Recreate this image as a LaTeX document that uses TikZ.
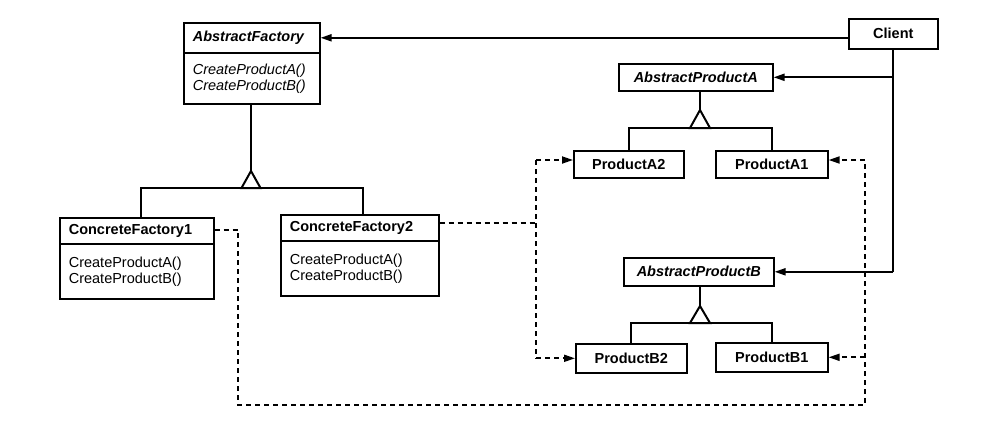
\documentclass[tikz,border=0pt]{standalone}
\usepackage{fontspec}
\setmainfont{Liberation Sans}
\usetikzlibrary{arrows.meta,calc}
\begin{document}
\begin{tikzpicture}[x=1pt,y=-1pt,
  txt/.style={font=\fontsize{14.5}{16}\selectfont},
  cls/.style={txt,draw,line width=1.6pt,anchor=north west,inner sep=0pt,align=left},
  simple/.style={draw,line width=1.6pt,anchor=north west,inner sep=0pt,align=center,font=\fontsize{14.5}{16}\selectfont\bfseries},
  conn/.style={line width=2pt},
  arr/.style={conn,-{Triangle[length=11pt,width=7pt]}},
  dsh/.style={line width=1.8pt,dash pattern=on 5pt off 4pt},
  darr/.style={dsh,-{Triangle[length=11pt,width=7pt]}},
  inh/.style={line width=2pt,fill=white,line join=miter}
]
\useasboundingbox (0,0) rectangle (991,439);
\fill[white] (0,0) rectangle (991,439);

% AbstractFactory
\node[cls,minimum width=136pt,minimum height=30pt,text width=118pt] (afh) at (183,22) {\bfseries\itshape AbstractFactory};
\node[cls,minimum width=136pt,minimum height=51pt,text width=118pt] (afb) at (183,52) {\itshape CreateProductA()\\CreateProductB()};

% ConcreteFactory1
\node[cls,minimum width=154pt,minimum height=26pt,text width=136pt] (cf1h) at (59,217) {\bfseries ConcreteFactory1};
\node[cls,minimum width=154pt,minimum height=55pt,text width=136pt] (cf1b) at (59,243) {CreateProductA()\\CreateProductB()};

% ConcreteFactory2
\node[cls,minimum width=158pt,minimum height=26pt,text width=140pt] (cf2h) at (280,214) {\bfseries ConcreteFactory2};
\node[cls,minimum width=158pt,minimum height=55pt,text width=140pt] (cf2b) at (280,240) {CreateProductA()\\CreateProductB()};

% Client
\node[simple,minimum width=89pt,minimum height=30pt] (client) at (848,18) {Client};

% Abstract products
\node[simple,minimum width=154pt,minimum height=27pt] (apa) at (618,63) {\itshape AbstractProductA};
\node[simple,minimum width=150pt,minimum height=28pt] (apb) at (623,257) {\itshape AbstractProductB};

% Products
\node[simple,minimum width=110pt,minimum height=27pt] (pa2) at (573,150) {ProductA2};
\node[simple,minimum width=112pt,minimum height=27pt] (pa1) at (715,150) {ProductA1};
\node[simple,minimum width=111pt,minimum height=29pt] (pb2) at (575,343) {ProductB2};
\node[simple,minimum width=112pt,minimum height=29pt] (pb1) at (715,342) {ProductB1};

% inheritance AbstractFactory
\coordinate (t1) at (251,171);
\coordinate (t1b) at (251,188);
\draw[conn] (afb.south -| t1) -- (t1);
\draw[conn] ([xshift=4pt]cf1h.north) |- ([xshift=3pt]cf2h.north |- t1b) -- ([xshift=3pt]cf2h.north);
\draw[inh] (t1) -- ++(-9.5,17) -- ++(19,0) -- cycle;

% inheritance A
\coordinate (t2) at (700,110);
\coordinate (t2b) at (700,128);
\draw[conn] (apa.south -| t2) -- (t2);
\draw[conn] (pa2.north) |- (pa1.north |- t2b) -- (pa1.north);
\draw[inh] (t2) -- ++(-10,18) -- ++(20,0) -- cycle;

% inheritance B
\coordinate (t3) at (700,306);
\coordinate (t3b) at (700,323);
\draw[conn] (apb.south -| t3) -- (t3);
\draw[conn] (pb2.north) |- (pb1.north |- t3b) -- (pb1.north);
\draw[inh] (t3) -- ++(-10,17) -- ++(20,0) -- cycle;

% Client associations
\coordinate (cv) at (893,0);
\draw[arr] (client.west |- afh.east) -- (afh.east);
\draw[conn] (client.south -| cv) -- (cv |- apb.east);
\draw[arr] (cv |- apb.east) -- (apb.east);
\draw[arr] (cv |- apa.east) -- (apa.east);

% dependencies ConcreteFactory1
\coordinate (d1x) at (238,405);
\coordinate (d2x) at (865,405);
\draw[dsh] ([yshift=1pt]cf1h.east) -- ([yshift=1pt]cf1h.east -| d1x) -- (d1x) -- (d2x) -- (d2x |- 0,160);
\draw[darr] (d2x |- 0,160) -- (pa1.east |- 0,160);
\draw[darr] (d2x |- pb1.east) -- (pb1.east);

% dependencies ConcreteFactory2
\coordinate (d3x) at (536,0);
\draw[dsh] ([yshift=5pt]cf2h.east) -- ([yshift=5pt]cf2h.east -| d3x);
\draw[dsh] (d3x |- 0,160) -- (d3x |- pb2.west);
\draw[darr] (d3x |- 0,160) -- (pa2.west |- 0,160);
\draw[darr] (d3x |- pb2.west) -- (pb2.west);
\end{tikzpicture}
\end{document}
